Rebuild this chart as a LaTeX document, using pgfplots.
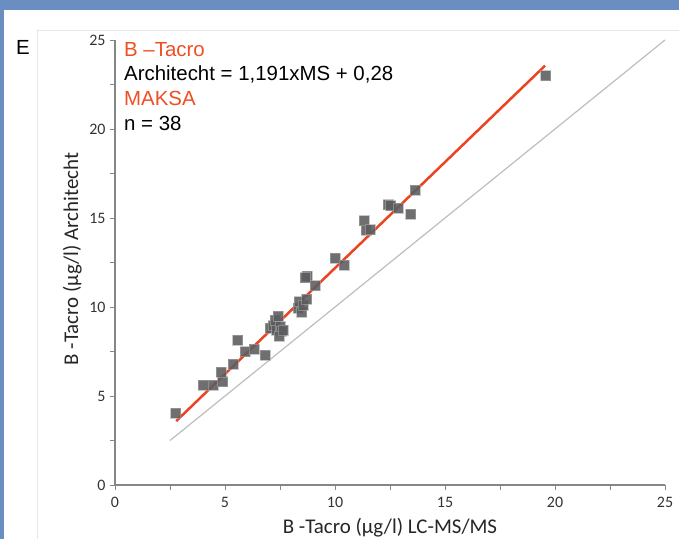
\documentclass[border=0pt]{standalone}
\usepackage{fontspec}
\setmainfont{Carlito}
\newfontfamily\arial{Liberation Sans}
\usepackage{pgfplots}
\pgfplotsset{compat=1.18}
\definecolor{Frame}{HTML}{6A8DC2}
\definecolor{Box}{HTML}{E6E6E6}
\definecolor{AxisGray}{HTML}{868686}
\definecolor{FitRed}{HTML}{EB4421}
\definecolor{TextRed}{HTML}{F04E23}
\definecolor{IdGray}{HTML}{BEBEBE}
\definecolor{Mark}{HTML}{5C5C5E}

\pgfplotstableread{
x y
2.76 4.05
4.02 5.60
4.47 5.62
4.89 5.80
4.82 6.35
5.38 6.80
5.58 8.15
5.91 7.50
6.32 7.62
6.83 7.30
7.05 8.80
7.20 8.95
7.27 9.25
7.42 9.50
7.35 8.70
7.50 8.90
7.58 8.65
7.45 8.35
7.65 8.70
8.33 9.95
8.38 10.30
8.48 9.70
8.56 10.10
8.71 10.45
8.74 11.75
8.65 11.65
9.09 11.20
10.00 12.75
10.41 12.35
11.32 14.85
11.41 14.30
11.59 14.35
12.42 15.75
12.53 15.70
12.88 15.55
13.44 15.20
13.64 16.55
19.58 23.00
}\tacro

\begin{document}
\begin{tikzpicture}
\useasboundingbox (0,0) rectangle (679bp,-539bp);
\fill[white] (0,0) rectangle (679bp,-539bp);
\fill[Frame] (0,0) rectangle (679bp,-10bp);
\fill[Frame] (0,0) rectangle (4bp,-539bp);
\draw[Box, line width=1bp] (37bp,-545bp) |- (690bp,-30bp);

\begin{axis}[
  at={(115bp,-485bp)}, anchor=south west,
  scale only axis,
  width=550bp, height=445bp,
  xmin=0, xmax=25, ymin=0, ymax=25,
  xtick={0,5,...,25}, ytick={0,5,...,25},
  minor tick num=1,
  axis lines=left,
  axis line style={-, AxisGray, line width=1.2bp},
  tick style={AxisGray, line width=1bp},
  tick align=outside,
  major tick length=5bp, minor tick length=5bp,
  /pgf/number format/assume math mode=true,
  ticklabel style={font=\fontsize{16}{19}\selectfont, text=black!80},
  xticklabel style={yshift=-3.5bp},
  yticklabel style={xshift=-1bp},
  clip=false
]
\addplot[IdGray, line width=1.2bp] coordinates {(2.5,2.5) (25,25)};
\addplot[FitRed, line width=2.5bp] coordinates {(2.78,3.59) (19.55,23.56)};
\addplot[only marks, mark=square*, mark size=5bp,
  mark options={fill=Mark, fill opacity=0.88, draw=black!35, draw opacity=0.6, line width=0.6bp}]
  table[x=x, y=y] {\tacro};
\end{axis}

\node[anchor=base, font=\fontsize{21}{25}\selectfont, text=black!85] at (390bp,-533bp) {B -Tacro (µg/l) LC-MS/MS};
\node[anchor=base, rotate=90, font=\fontsize{21}{25}\selectfont, text=black!85] at (78bp,-259bp) {B -Tacro (µg/l) Architecht};

\begin{scope}[font=\arial\fontsize{20.5}{24}\selectfont]
\node[anchor=base west, inner sep=0pt] at (16bp,-54bp) {E};
\node[anchor=base west, inner sep=0pt, text=TextRed] at (124bp,-56.5bp) {B –Tacro};
\node[anchor=base west, inner sep=0pt] at (124bp,-80.5bp) {Architecht = 1,191xMS + 0,28};
\node[anchor=base west, inner sep=0pt, text=TextRed] at (124bp,-105.5bp) {MAKSA};
\node[anchor=base west, inner sep=0pt] at (124bp,-130bp) {n = 38};
\end{scope}
\end{tikzpicture}
\end{document}
